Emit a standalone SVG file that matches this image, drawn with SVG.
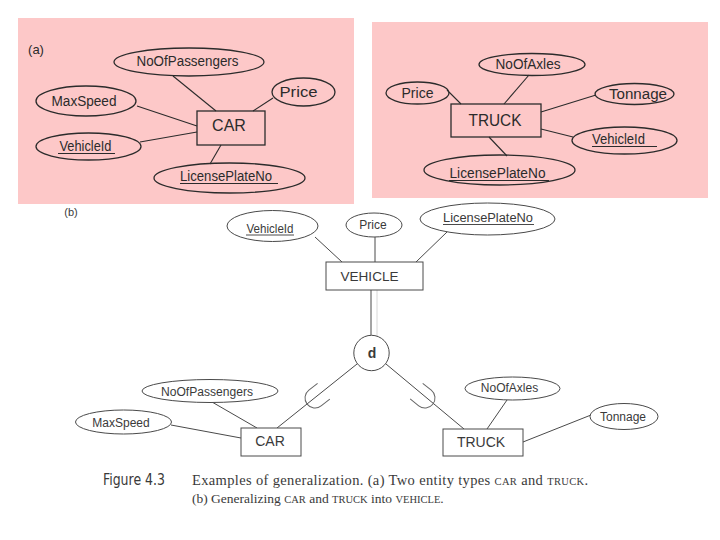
<svg xmlns="http://www.w3.org/2000/svg" width="720" height="540" viewBox="0 0 720 540">
<style>
.bg{fill:#ffffff}
.panel{fill:#fdc8c8}
.a-shape{fill:none;stroke:#2b2b2b;stroke-width:1.3}
.a-line{stroke:#2b2b2b;stroke-width:1.1;fill:none}
.a-txt{font-family:"Liberation Sans",Arial,sans-serif;fill:#2b2b2b;text-anchor:middle}
.b-shape{fill:#ffffff;stroke:#4a4a4a;stroke-width:1}
.b-line{stroke:#4a4a4a;stroke-width:1;fill:none}
.b-txt{font-family:"Liberation Sans",Arial,sans-serif;fill:#3a3a3a;text-anchor:middle}
.ul{stroke-width:1}
.subset{fill:none;stroke:#666;stroke-width:1}
.cap{font-family:"Liberation Serif","Times New Roman",serif;fill:#3a3a3a}
.sc{font-size:10.5px}
</style>
<rect class="bg" x="0" y="0" width="720" height="540"/>

<!-- Panel (a) left: CAR -->
<rect class="panel" x="18" y="18" width="336" height="186"/>
<text class="a-txt" x="36" y="54" font-size="13">(a)</text>
<g id="a-connectors">
<line class="a-line" x1="173" y1="76" x2="216" y2="111"/>
<line class="a-line" x1="273" y1="98" x2="253" y2="111"/>
<line class="a-line" x1="137" y1="106" x2="197" y2="126"/>
<line class="a-line" x1="140" y1="142" x2="197" y2="132"/>
<line class="a-line" x1="210" y1="164" x2="221" y2="145"/>
</g>
<g id="a-car">
<rect class="a-shape" x="197" y="111" width="68" height="34"/>
<text class="a-txt" x="229" y="131" font-size="16">CAR</text>
</g>
<g id="a-car-noofpassengers">
<ellipse class="a-shape" cx="189" cy="62" rx="75" ry="14"/>
<text class="a-txt" x="187.5" y="66" font-size="14" textLength="102" lengthAdjust="spacingAndGlyphs">NoOfPassengers</text>
</g>
<g id="a-car-price">
<ellipse class="a-shape" cx="303.5" cy="92" rx="31.5" ry="14"/>
<text class="a-txt" x="298.5" y="96.5" font-size="15" textLength="38" lengthAdjust="spacingAndGlyphs">Price</text>
</g>
<g id="a-car-maxspeed">
<ellipse class="a-shape" cx="86" cy="101" rx="50" ry="15"/>
<text class="a-txt" x="84" y="105.5" font-size="14" textLength="65" lengthAdjust="spacingAndGlyphs">MaxSpeed</text>
</g>
<g id="a-car-vehicleid">
<ellipse class="a-shape" cx="88.5" cy="146.5" rx="52.5" ry="13.5"/>
<text class="a-txt" x="85.5" y="150.5" font-size="14" textLength="52" lengthAdjust="spacingAndGlyphs">VehicleId</text>
<line class="a-line ul" x1="58" y1="153.5" x2="115" y2="153.5"/>
</g>
<g id="a-car-licenseplateno">
<ellipse class="a-shape" cx="229.5" cy="178" rx="75.5" ry="15"/>
<text class="a-txt" x="226" y="181" font-size="14" textLength="92" lengthAdjust="spacingAndGlyphs">LicensePlateNo</text>
<line class="a-line ul" x1="180" y1="183.5" x2="278" y2="183.5"/>
</g>

<!-- Panel (a) right: TRUCK -->
<rect class="panel" x="372" y="22" width="336" height="176"/>
<g id="a-truck-connectors">
<line class="a-line" x1="529" y1="75" x2="504" y2="104"/>
<line class="a-line" x1="447" y1="90" x2="461" y2="104"/>
<line class="a-line" x1="596" y1="95" x2="541" y2="112"/>
<line class="a-line" x1="573" y1="137" x2="541" y2="129"/>
<line class="a-line" x1="507" y1="156" x2="489" y2="137"/>
</g>
<g id="a-truck">
<rect class="a-shape" x="451" y="104" width="90" height="33"/>
<text class="a-txt" x="495" y="125.5" font-size="16" textLength="53" lengthAdjust="spacingAndGlyphs">TRUCK</text>
</g>
<g id="a-truck-noofaxles">
<ellipse class="a-shape" cx="532" cy="64.5" rx="53" ry="11"/>
<text class="a-txt" x="528" y="69" font-size="14" textLength="65" lengthAdjust="spacingAndGlyphs">NoOfAxles</text>
</g>
<g id="a-truck-price">
<ellipse class="a-shape" cx="417.5" cy="93" rx="31.5" ry="11"/>
<text class="a-txt" x="417.5" y="97.5" font-size="14" textLength="32" lengthAdjust="spacingAndGlyphs">Price</text>
</g>
<g id="a-truck-tonnage">
<ellipse class="a-shape" cx="634.5" cy="94" rx="39.5" ry="10.5"/>
<text class="a-txt" x="638" y="98.5" font-size="14" textLength="58" lengthAdjust="spacingAndGlyphs">Tonnage</text>
</g>
<g id="a-truck-vehicleid">
<ellipse class="a-shape" cx="624.5" cy="140.5" rx="52.5" ry="13.5"/>
<text class="a-txt" x="618.5" y="144" font-size="14" textLength="53" lengthAdjust="spacingAndGlyphs">VehicleId</text>
<line class="a-line ul" x1="592" y1="146.5" x2="657" y2="146.5"/>
</g>
<g id="a-truck-licenseplateno">
<ellipse class="a-shape" cx="499.5" cy="170" rx="75.5" ry="15"/>
<text class="a-txt" x="497.5" y="178" font-size="14" textLength="96" lengthAdjust="spacingAndGlyphs">LicensePlateNo</text>
<line class="a-line ul" x1="449" y1="180.5" x2="549" y2="180.5"/>
</g>

<!-- Part (b) -->
<text class="b-txt" x="71" y="216" font-size="11" fill="#666">(b)</text>
<g id="b-connectors">
<line class="b-line" x1="315" y1="237" x2="342" y2="262"/>
<line class="b-line" x1="375" y1="237" x2="375" y2="262"/>
<line class="b-line" x1="447" y1="232" x2="416" y2="262"/>
<line class="b-line" x1="371" y1="290" x2="371" y2="335"/>
<line x1="377" y1="290" x2="377" y2="336" stroke="#d8d8d8" stroke-width="1"/>
<line class="b-line" x1="357" y1="364" x2="277" y2="428"/>
<line class="b-line" x1="386" y1="364" x2="464" y2="429"/>
<line class="b-line" x1="212" y1="402" x2="257" y2="428"/>
<line class="b-line" x1="171" y1="425" x2="241" y2="438"/>
<line class="b-line" x1="507" y1="400" x2="487" y2="429"/>
<line class="b-line" x1="591" y1="415" x2="523" y2="442"/>
<path class="subset" transform="translate(315,398) rotate(-37.7)" d="M11,-10 L0,-10 A10,10 0 0 0 0,10 L11,10"/>
<path class="subset" transform="translate(425,398) rotate(-141.2)" d="M11,-10 L0,-10 A10,10 0 0 0 0,10 L11,10"/>
</g>
<g id="b-vehicle">
<rect class="b-shape" x="326" y="262" width="97" height="28"/>
<text class="b-txt" x="369.5" y="281" font-size="13.5" textLength="58" lengthAdjust="spacingAndGlyphs">VEHICLE</text>
</g>
<g id="b-vehicle-vehicleid">
<ellipse class="b-shape" cx="272.5" cy="226" rx="45.5" ry="15.5"/>
<text class="b-txt" x="270" y="233" font-size="12" textLength="47" lengthAdjust="spacingAndGlyphs">VehicleId</text>
<line class="b-line ul" x1="246" y1="235" x2="294" y2="235" stroke-width="0.8"/>
</g>
<g id="b-vehicle-price">
<ellipse class="b-shape" cx="374" cy="225" rx="28" ry="12"/>
<text class="b-txt" x="373" y="228.5" font-size="12">Price</text>
</g>
<g id="b-vehicle-licenseplateno">
<ellipse class="b-shape" cx="487.5" cy="219" rx="67.5" ry="16"/>
<text class="b-txt" x="488" y="221.5" font-size="12.5" textLength="90" lengthAdjust="spacingAndGlyphs">LicensePlateNo</text>
<line class="b-line ul" x1="443" y1="224.5" x2="534" y2="224.5" stroke-width="0.8"/>
</g>
<g id="b-d">
<circle class="b-shape" cx="371.5" cy="353" r="17.7"/>
<text class="b-txt" x="372" y="358" font-size="14" font-weight="bold" fill="#222">d</text>
</g>
<g id="b-car">
<rect class="b-shape" x="241" y="428" width="60" height="28"/>
<text class="b-txt" x="270" y="446" font-size="14">CAR</text>
</g>
<g id="b-car-noofpassengers">
<ellipse class="b-shape" cx="210" cy="391" rx="68" ry="11.5"/>
<text class="b-txt" x="207" y="396" font-size="12" textLength="92" lengthAdjust="spacingAndGlyphs">NoOfPassengers</text>
</g>
<g id="b-car-maxspeed">
<ellipse class="b-shape" cx="123.5" cy="422" rx="48" ry="12"/>
<text class="b-txt" x="121" y="427" font-size="12">MaxSpeed</text>
</g>
<g id="b-truck">
<rect class="b-shape" x="443" y="429" width="80" height="27"/>
<text class="b-txt" x="481" y="446.5" font-size="14">TRUCK</text>
</g>
<g id="b-truck-noofaxles">
<ellipse class="b-shape" cx="512.5" cy="388.5" rx="47.5" ry="11.5"/>
<text class="b-txt" x="509.5" y="391.5" font-size="12">NoOfAxles</text>
</g>
<g id="b-truck-tonnage">
<ellipse class="b-shape" cx="624" cy="416.5" rx="34" ry="13"/>
<text class="b-txt" x="623" y="420.5" font-size="12">Tonnage</text>
</g>

<!-- Caption -->
<text x="103" y="485" font-family="'DejaVu Sans Condensed','Liberation Sans Narrow','Liberation Sans',sans-serif" font-size="15" fill="#3a3a3a" textLength="62" lengthAdjust="spacingAndGlyphs">Figure 4.3</text>
<text class="cap" x="192" y="485" font-size="14.5" letter-spacing="0.35">Examples of generalization. (a) Two entity types <tspan class="sc">CAR</tspan> and <tspan class="sc">TRUCK</tspan>.</text>
<text class="cap" x="192" y="503" font-size="13.5">(b) Generalizing <tspan class="sc">CAR</tspan> and <tspan class="sc">TRUCK</tspan> into <tspan class="sc">VEHICLE</tspan>.</text>
</svg>
